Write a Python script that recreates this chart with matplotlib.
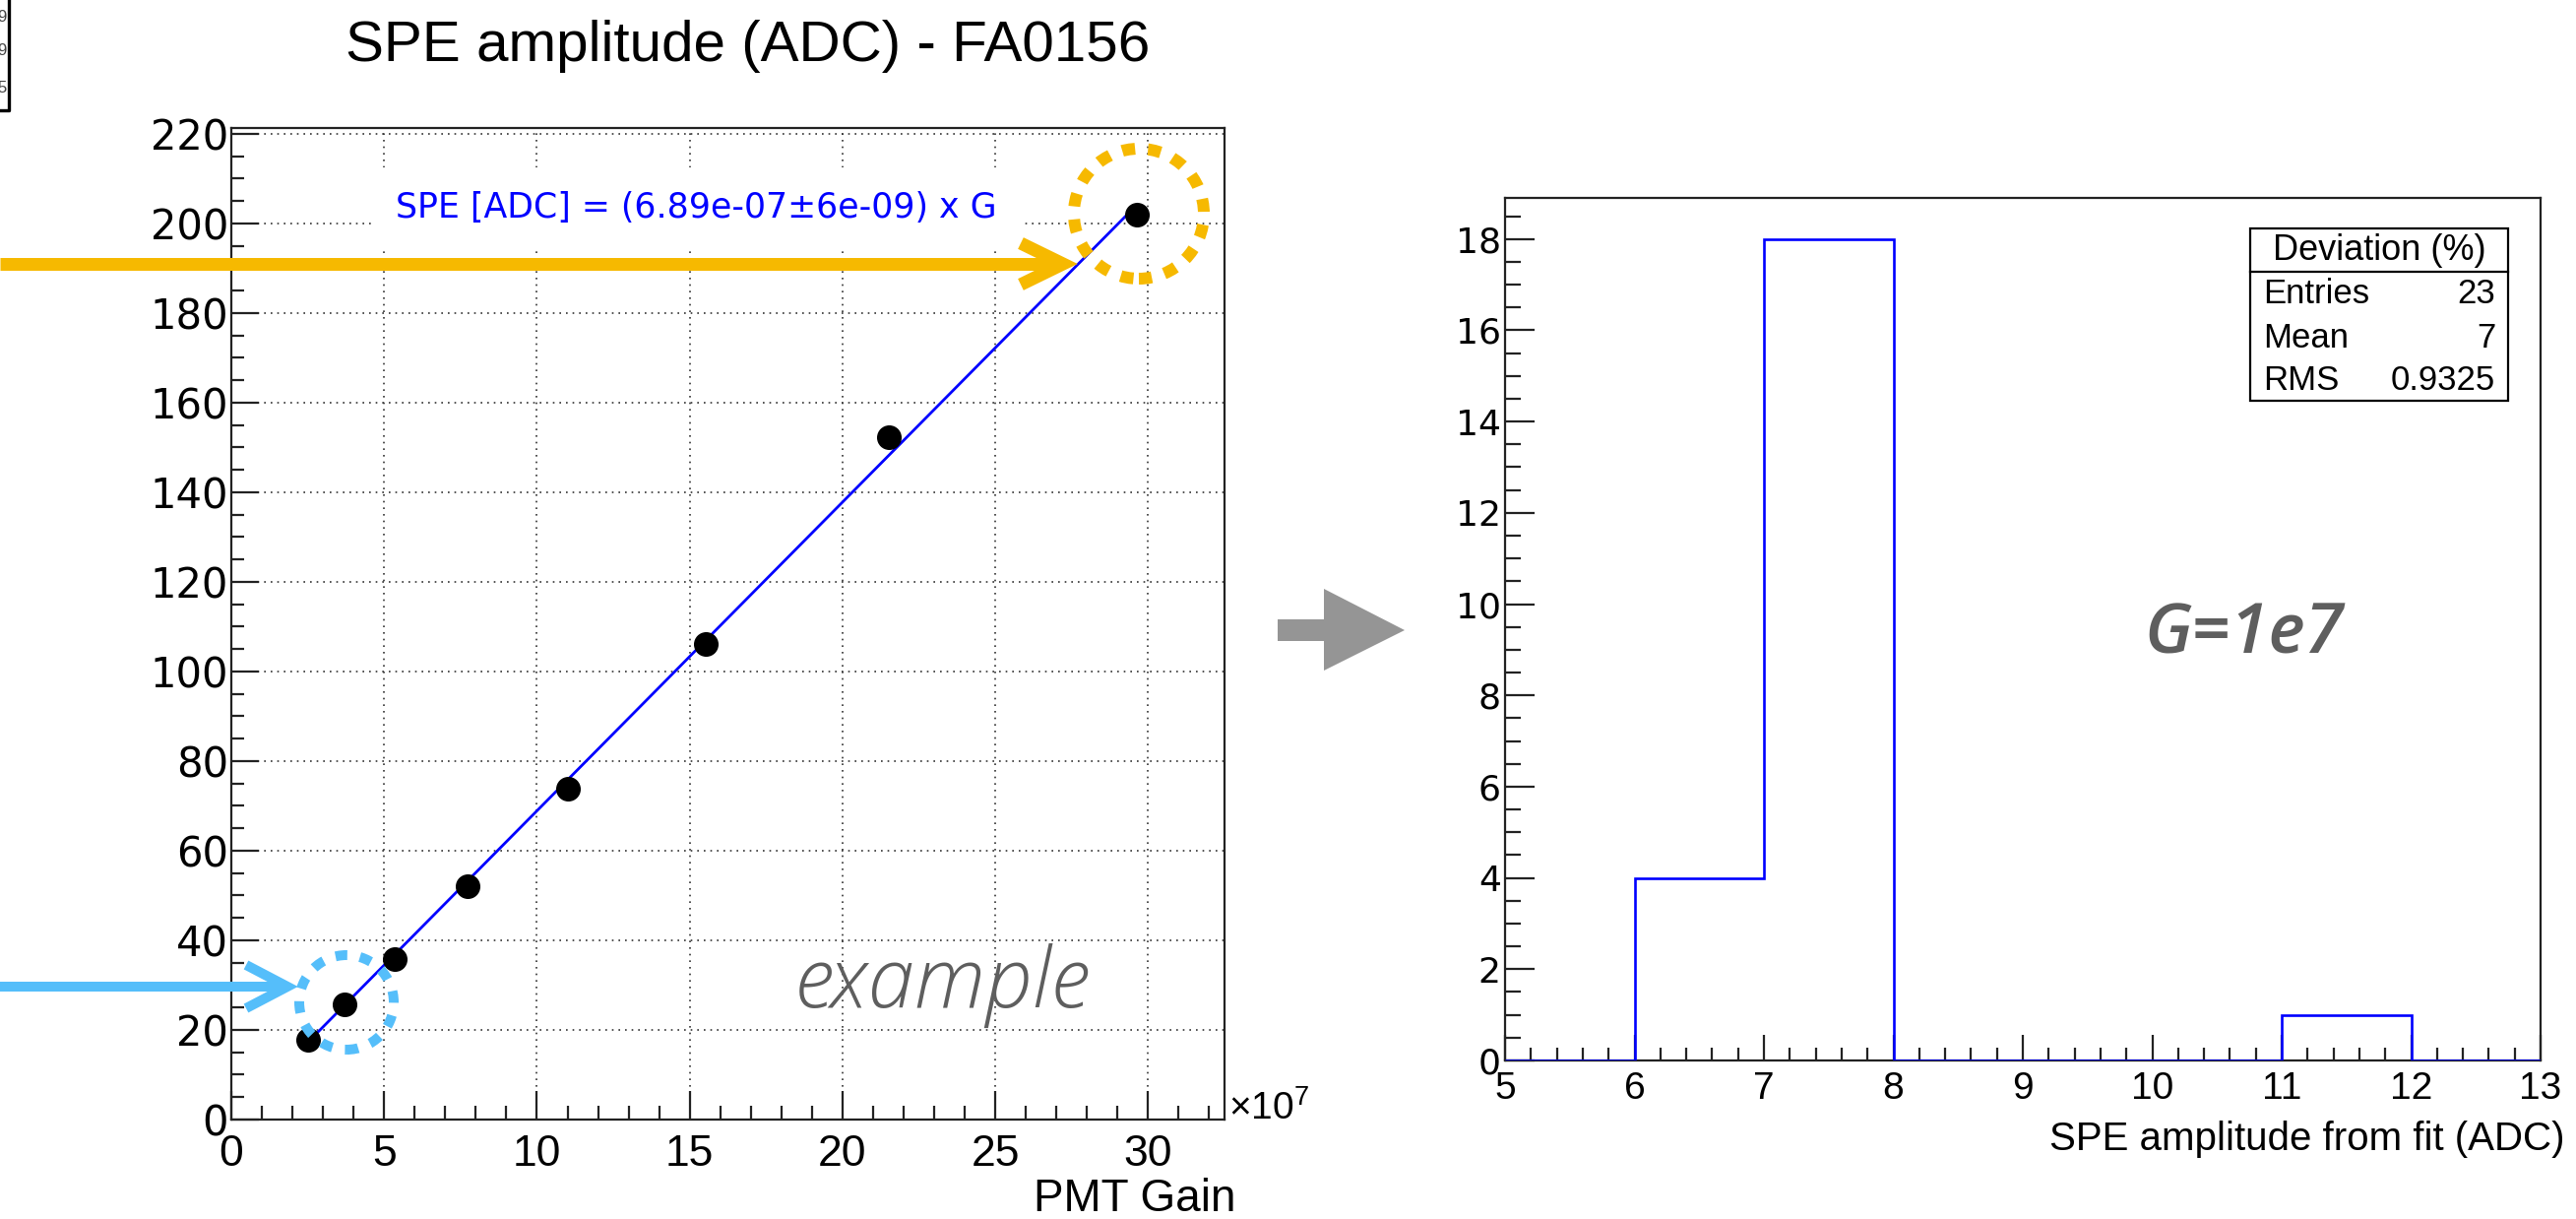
import numpy as np
import matplotlib
matplotlib.use("Agg")
import matplotlib.pyplot as plt
from matplotlib.ticker import MultipleLocator
from matplotlib.lines import Line2D
from matplotlib.patches import Ellipse, Polygon, Rectangle

plt.rcParams['font.family'] = ['Liberation Sans', 'DejaVu Sans']
plt.rcParams['mathtext.fontset'] = 'custom'
plt.rcParams['mathtext.rm'] = 'Liberation Sans'

# left panel: SPE amplitude vs PMT gain (gain in units of 1e7)
gain = [2.51, 3.69, 5.35, 7.74, 11.02, 15.51, 21.51, 29.64]
spe = [17.7, 25.8, 35.9, 52.1, 73.8, 106.2, 152.4, 201.9]
fit_slope = 6.89e-07
fit_label = "SPE [ADC] = (6.89e-07\u00b16e-09) x G"
title = "SPE amplitude (ADC) - FA0156"

# right panel: histogram of SPE amplitude
bin_edges = [5, 6, 7, 8, 9, 10, 11, 12, 13]
counts = [0, 4, 18, 0, 0, 0, 1, 0]
stats_title = "Deviation (%)"
stats_names = ["Entries", "Mean", "RMS"]
stats_values = ["23", "7", "0.9325"]

W, H = 2617, 1238
fig = plt.figure(figsize=(W / 100, H / 100), dpi=100)


def fx(px):
    return px / W


def fy(py):
    return 1 - py / H


def px2pt(p):
    return p * 0.72


# ---------------- left panel ----------------
ax1 = fig.add_axes([fx(235), fy(1137), (1244 - 235) / W, (1137 - 130) / H])
ax1.set_xlim(0, 32.5)
ax1.set_ylim(0, 221.3)

fit_x = np.array([min(gain), max(gain)])
ax1.plot(fit_x, fit_slope * 1e7 * fit_x, color='#0000FF', lw=2, zorder=4)
ax1.plot(gain, spe, 'o', color='black', ms=17, zorder=5)

ax1.xaxis.set_major_locator(MultipleLocator(5))
ax1.xaxis.set_minor_locator(MultipleLocator(1))
ax1.yaxis.set_major_locator(MultipleLocator(20))
ax1.yaxis.set_minor_locator(MultipleLocator(5))
ax1.tick_params(direction='in', which='both', top=False, right=False, width=1.6, color='#222222')
ax1.tick_params(axis='x', which='major', length=px2pt(29), pad=11, labelsize=32)
ax1.tick_params(axis='x', which='minor', length=px2pt(14))
ax1.tick_params(axis='y', which='major', length=px2pt(28), pad=2, labelsize=30)
ax1.tick_params(axis='y', which='minor', length=px2pt(13))
for lab in ax1.get_yticklabels():
    lab.set_fontfamily('DejaVu Sans')
for sp in ax1.spines.values():
    sp.set_linewidth(1.6)
    sp.set_color('#222222')
ax1.grid(True, which='major', ls=(0, (1, 3)), color='#333333', lw=1.2)
ax1.set_axisbelow(True)

ax1.text(fx(707), fy(211), fit_label, transform=fig.transFigure, ha='center', va='center',
         color='#0000FF', fontsize=25, family='DejaVu Sans', zorder=3,
         bbox=dict(boxstyle='square,pad=0.7', fc='white', ec='none'))

fig.text(fx(760), fy(62), title, ha='center', va='baseline', fontsize=42)
fig.text(fx(1256), fy(1230), "PMT Gain", ha='right', va='baseline', fontsize=33)
fig.text(fx(1248), fy(1137), "\u00d710$^{7}$", ha='left', va='baseline', fontsize=28)
fig.text(fx(808), fy(1023), "example", ha='left', va='baseline', fontsize=61,
         family='Open Sans', style='italic', weight='light', color='#5E5E5E')

# ---------------- right panel ----------------
ax2 = fig.add_axes([fx(1529), fy(1077), (2581 - 1529) / W, (1077 - 201) / H])
ax2.stairs(counts, bin_edges, color='#0000FF', lw=1.9, zorder=3)
ax2.set_xlim(5, 13)
ax2.set_ylim(0, 18.9)
ax2.xaxis.set_major_locator(MultipleLocator(1))
ax2.xaxis.set_minor_locator(MultipleLocator(0.2))
ax2.yaxis.set_major_locator(MultipleLocator(2))
ax2.yaxis.set_minor_locator(MultipleLocator(0.5))
ax2.tick_params(direction='in', which='both', top=False, right=False, width=1.6, color='#222222')
ax2.tick_params(axis='x', which='major', length=px2pt(26), pad=8, labelsize=28)
ax2.tick_params(axis='x', which='minor', length=px2pt(13))
ax2.tick_params(axis='y', which='major', length=px2pt(30), pad=3, labelsize=26)
ax2.tick_params(axis='y', which='minor', length=px2pt(16))
for lab in ax2.get_yticklabels():
    lab.set_fontfamily('DejaVu Sans')
for sp in ax2.spines.values():
    sp.set_linewidth(1.6)
    sp.set_color('#222222')

fig.text(fx(2606), fy(1168), "SPE amplitude from fit (ADC)", ha='right', va='baseline', fontsize=29)

# stats box
bx0, bx1, by0, by1, bsep = 2286, 2548, 232, 407, 276
fig.add_artist(Rectangle((fx(bx0), fy(by1)), (bx1 - bx0) / W, (by1 - by0) / H,
                         transform=fig.transFigure, fc='white', ec='black', lw=1.6, zorder=6))
fig.add_artist(Line2D([fx(bx0), fx(bx1)], [fy(bsep), fy(bsep)], transform=fig.transFigure,
                      color='black', lw=1.6, zorder=7))
fig.text(fx((bx0 + bx1) / 2), fy(254), stats_title, ha='center', va='center', fontsize=26, zorder=7)
for i, (name, val) in enumerate(zip(stats_names, stats_values)):
    yc = fy(299 + 44 * i)
    fig.text(fx(2299), yc, name, ha='left', va='center', fontsize=25, zorder=7)
    fig.text(fx(2535), yc, val, ha='right', va='center', fontsize=25, zorder=7)

fig.text(fx(2178), fy(663), "G=1e7", ha='left', va='baseline', fontsize=51,
         family='Open Sans', style='italic', weight='semibold', color='#5E5E5E')

# ---------------- annotations ----------------
orange = '#F6B900'
lblue = '#55BEFA'

fig.add_artist(Line2D([fx(0), fx(1074)], [fy(268), fy(268)], transform=fig.transFigure,
                      color=orange, lw=px2pt(13), solid_capstyle='butt', zorder=8))
fig.add_artist(Line2D([fx(1037), fx(1080), fx(1037)], [fy(247), fy(268), fy(289)],
                      transform=fig.transFigure, color=orange, lw=px2pt(13),
                      solid_joinstyle='miter', solid_capstyle='butt', zorder=8))
fig.add_artist(Ellipse((fx(1157), fy(217)), 2 * 66 / W, 2 * 66 / H, transform=fig.transFigure,
                       fill=False, ec=orange, lw=px2pt(12), ls=(0, (1.1, 1.1)), zorder=8))

fig.add_artist(Line2D([fx(0), fx(287)], [fy(1002), fy(1002)], transform=fig.transFigure,
                      color=lblue, lw=px2pt(10), solid_capstyle='butt', zorder=8))
fig.add_artist(Line2D([fx(250), fx(292), fx(250)], [fy(980), fy(1002), fy(1024)],
                      transform=fig.transFigure, color=lblue, lw=px2pt(10),
                      solid_joinstyle='miter', solid_capstyle='butt', zorder=8))
fig.add_artist(Ellipse((fx(352), fy(1018)), 2 * 48 / W, 2 * 48 / H, transform=fig.transFigure,
                       fill=False, ec=lblue, lw=px2pt(10), ls=(0, (1.2, 1.3)), zorder=8))

# gray block arrow between panels
arrow_px = [(1298, 629), (1345, 629), (1345, 598), (1427, 640), (1345, 681), (1345, 651), (1298, 651)]
fig.add_artist(Polygon([(fx(x), fy(y)) for x, y in arrow_px], closed=True,
                       transform=fig.transFigure, fc='#959595', ec='none', zorder=8))

# cropped fragment at the top-left corner
fig.add_artist(Line2D([fx(9), fx(9), fx(0)], [fy(0), fy(112), fy(112)], transform=fig.transFigure,
                      color='black', lw=2.4, zorder=8))
for yy, ch in zip([17, 52, 90], ["9", "9", "5"]):
    fig.text(fx(2), fy(yy), ch, ha='center', va='center', fontsize=12, color='#444444')

fig.savefig('out.png', dpi=100)
